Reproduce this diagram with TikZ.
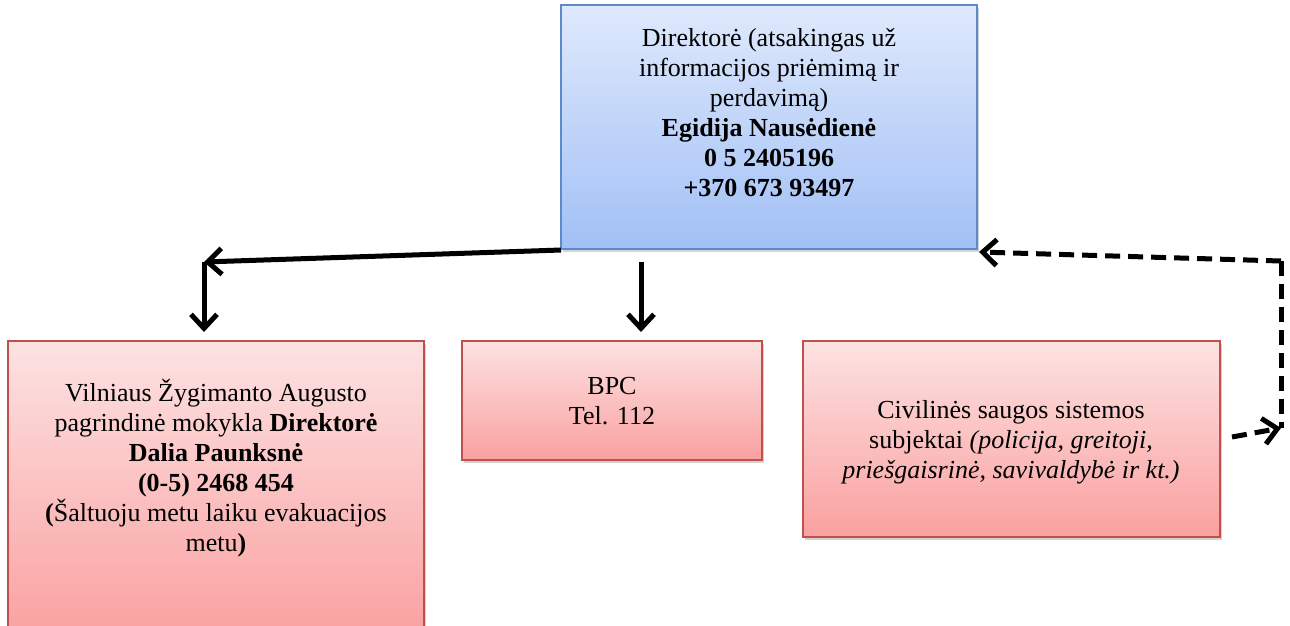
\documentclass[tikz,border=0pt]{standalone}
\usepackage{fontspec}
\setmainfont{Liberation Serif}
\usetikzlibrary{arrows.meta,shadows}
\definecolor{bluetop}{HTML}{DFE9FC}
\definecolor{bluebot}{HTML}{A2C0F6}
\definecolor{blueline}{HTML}{5B8BCB}
\definecolor{redtop}{HTML}{FDE2E2}
\definecolor{redbot}{HTML}{FAA0A0}
\definecolor{redline}{HTML}{C0504D}
\tikzset{
  bluebox/.style={draw=blueline, line width=1.2pt, top color=bluetop, bottom color=bluebot,
    drop shadow={shadow xshift=2pt, shadow yshift=-3pt, opacity=0.35}},
  redbox/.style={draw=redline, line width=1.2pt, top color=redtop, bottom color=redbot,
    drop shadow={shadow xshift=2pt, shadow yshift=-3pt, opacity=0.35}},
  txt/.style={align=center, font=\fontsize{26}{30}\selectfont, inner sep=0pt},
  tipstyle/.style={-{Straight Barb[length=14pt,width=26pt,line width=5pt]}},
  conn/.style={line width=5pt, tipstyle},
  dconn/.style={line width=5pt, dash pattern=on 15pt off 8pt},
}
\begin{document}
\begin{tikzpicture}[x=1pt,y=-1pt]
\useasboundingbox (0,0) rectangle (1290,625);
\clip (0,0) rectangle (1290,625);
% boxes
\path[bluebox] (561,5) rectangle (977,249);
\coordinate (topSW) at (561,250);
\coordinate (topSE) at (979,252);
\path[redbox] (8,341) rectangle (424,640);
\path[redbox] (462,341) rectangle (762,460);
\path[redbox] (803,341) rectangle (1220,537);
% texts
\node[txt, anchor=north] (toptext) at (769,28) {Direktorė (atsakingas už\\informacijos priėmimą ir\\perdavimą)\\\textbf{Egidija Nausėdienė}\\\textbf{0 5 2405196}\\\textbf{+370 673 93497}};
\node[txt, anchor=north] (lefttext) at (216,379) {Vilniaus Žygimanto Augusto\\pagrindinė mokykla \textbf{Direktorė}\\\textbf{Dalia Paunksnė}\\\textbf{(0-5) 2468 454}\\\textbf{(}Šaltuoju metu laiku evakuacijos\\metu\textbf{)}};
\node[txt] (bpctext) at (612,401) {BPC\\Tel. 112};
\node[txt] (civtext) at (1011,442) {Civilinės saugos sistemos\\subjektai \textit{(policija, greitoji,}\\\textit{priešgaisrinė, savivaldybė ir kt.)}};
% connector coordinates
\coordinate (elbow) at (204,262);
\coordinate (leftTip) at (204,332);
\coordinate (bpcTop) at (641,262);
\coordinate (bpcTip) at (641,332);
\coordinate (rc) at (1281,261);
\coordinate (rb) at (1281,428);
\coordinate (cs) at (1232,437);
% solid connectors
\draw[conn] (topSW) -- (elbow);
\draw[conn] (elbow) -- (leftTip);
\draw[conn] (bpcTop) -- (bpcTip);
% dashed connectors
\draw[dconn, tipstyle] (rc) -- (topSE);
\draw[dconn] (rc) -- (rb);
\draw[dconn, tipstyle] (cs) -- (rb);
\end{tikzpicture}
\end{document}
